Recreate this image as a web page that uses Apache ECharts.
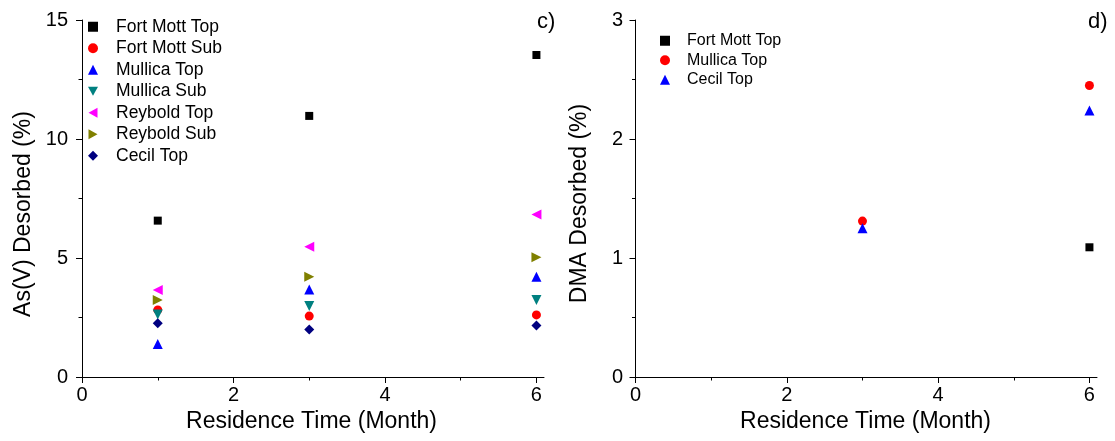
<!DOCTYPE html>
<html>
<head>
<meta charset="utf-8">
<title>As(V) and DMA desorption vs residence time</title>
<script src="https://cdn.jsdelivr.net/npm/echarts@6/dist/echarts.min.js"></script>
<style>
  html, body { margin: 0; padding: 0; background: #fff; }
  #wrap { position: relative; width: 1115px; height: 441px; }
  #panelC { position: absolute; left: 0; top: 0; width: 560px; height: 441px; }
  #panelD { position: absolute; left: 560px; top: 0; width: 555px; height: 441px; }
</style>
</head>
<body>
<div id="wrap">
  <div id="panelC"></div>
  <div id="panelD"></div>
</div>
<script>
// Residence time (months) at which samples were taken
const months = [1, 3, 6];

// Panel c: As(V) desorbed (%)
const fortMottTopAs = [6.57, 10.97, 13.53];
const fortMottSubAs = [2.82, 2.56, 2.61];
const mullicaTopAs  = [1.39, 3.68, 4.21];
const mullicaSubAs  = [2.63, 2.98, 3.24];
const reyboldTopAs  = [3.66, 5.47, 6.83];
const reyboldSubAs  = [3.24, 4.21, 5.03];
const cecilTopAs    = [2.26, 2.00, 2.16];

// Panel d: DMA desorbed (%)
const dmaMonths      = [3, 6];
const fortMottTopDma = [null, 1.09];
const mullicaTopDma  = [1.31, 2.45];
const cecilTopDma    = [1.25, 2.24];

// Axis tick labels
const xMajorTicks = [0, 2, 4, 6];
const xMinorTicks = [1, 3, 5];

const FONT = "'Liberation Sans', Arial, sans-serif";

// Marker shapes
const TRI_UP    = 'triangle';
const TRI_DOWN  = 'path://M0,0L10,0L5,9Z';
const TRI_LEFT  = 'path://M0,5L9,0L9,10Z';
const TRI_RIGHT = 'path://M0,0L9,5L0,10Z';

function pairs(xs, ys) {
  const out = [];
  xs.forEach((x, i) => { if (ys[i] !== null) out.push([x, ys[i]]); });
  return out;
}

function xAxes(xMin) {
  return [
    {
      type: 'value', min: xMin, max: 6.1, position: 'bottom',
      name: 'Residence Time (Month)', nameLocation: 'middle', nameGap: 33,
      nameTextStyle: { fontFamily: FONT, fontSize: 23, color: '#000' },
      axisLine: { show: true, lineStyle: { color: '#000', width: 1 } },
      axisTick: { show: true, length: 6, customValues: xMajorTicks, lineStyle: { color: '#000' } },
      axisLabel: { customValues: xMajorTicks, fontFamily: FONT, fontSize: 20, color: '#000', margin: 8 },
      splitLine: { show: false }
    },
    {
      type: 'value', min: xMin, max: 6.1, position: 'bottom',
      axisLine: { show: false },
      axisTick: { show: true, length: 3.5, customValues: xMinorTicks, lineStyle: { color: '#000' } },
      axisLabel: { show: false },
      splitLine: { show: false }
    }
  ];
}

function yAxis(name, max, interval, padRight, gap) {
  return {
    type: 'value', min: 0, max: max, interval: interval,
    name: name, nameLocation: 'middle', nameGap: gap,
    nameTextStyle: { fontFamily: FONT, fontSize: 23, color: '#000', padding: [0, padRight, 0, 0] },
    axisLine: { show: true, lineStyle: { color: '#000', width: 1 } },
    axisTick: { show: true, length: 6, lineStyle: { color: '#000' } },
    minorTick: { show: true, splitNumber: 2, length: 3.5, lineStyle: { color: '#000' } },
    axisLabel: { fontFamily: FONT, fontSize: 20, color: '#000', margin: 11 },
    splitLine: { show: false }
  };
}

function scatter(name, data, symbol, size, color) {
  return {
    name: name, type: 'scatter', xAxisIndex: 0, yAxisIndex: 0,
    data: data, symbol: symbol, symbolSize: size,
    itemStyle: { color: color, opacity: 1 },
    emphasis: { disabled: true }
  };
}

// ---- Panel c ----
const chartC = echarts.init(document.getElementById('panelC'), null, { renderer: 'canvas' });
chartC.setOption({
  animation: false,
  backgroundColor: '#fff',
  grid: { left: 79, top: 20, width: 465, height: 357 },
  xAxis: xAxes(-0.04),
  yAxis: yAxis('As(V) Desorbed (%)', 15, 5, 31, 44),
  legend: {
    orient: 'vertical', left: 88, top: 16, padding: 0,
    itemWidth: 10, itemHeight: 10, itemGap: 0,
    textStyle: { fontFamily: FONT, fontSize: 17.5, color: '#000', lineHeight: 21.5, padding: [0, 0, 0, 13] },
    data: ['Fort Mott Top', 'Fort Mott Sub', 'Mullica Top', 'Mullica Sub', 'Reybold Top', 'Reybold Sub', 'Cecil Top']
  },
  graphic: [{
    type: 'text', left: 537, top: 11,
    style: { text: 'c)', fontFamily: FONT, fontSize: 22, fill: '#000' }
  }],
  series: [
    scatter('Fort Mott Top', pairs(months, fortMottTopAs), 'rect', 8, '#000000'),
    scatter('Fort Mott Sub', pairs(months, fortMottSubAs), 'circle', 9, '#ff0000'),
    scatter('Mullica Top', pairs(months, mullicaTopAs), TRI_UP, 10, '#0000ff'),
    scatter('Mullica Sub', pairs(months, mullicaSubAs), TRI_DOWN, 10, '#008080'),
    scatter('Reybold Top', pairs(months, reyboldTopAs), TRI_LEFT, 10, '#ff00ff'),
    scatter('Reybold Sub', pairs(months, reyboldSubAs), TRI_RIGHT, 10, '#808000'),
    scatter('Cecil Top', pairs(months, cecilTopAs), 'diamond', 10, '#000080')
  ]
});

// ---- Panel d ----
const chartD = echarts.init(document.getElementById('panelD'), null, { renderer: 'canvas' });
chartD.setOption({
  animation: false,
  backgroundColor: '#fff',
  grid: { left: 68, top: 20, width: 469, height: 357 },
  xAxis: xAxes(-0.02),
  yAxis: yAxis('DMA Desorbed (%)', 3, 1, 10, 43),
  legend: {
    orient: 'vertical', left: 100, top: 31, padding: 0,
    itemWidth: 10, itemHeight: 10, itemGap: 0,
    textStyle: { fontFamily: FONT, fontSize: 16, color: '#000', lineHeight: 19.5, padding: [0, 0, 0, 12] },
    data: ['Fort Mott Top', 'Mullica Top', 'Cecil Top']
  },
  graphic: [{
    type: 'text', left: 528, top: 11,
    style: { text: 'd)', fontFamily: FONT, fontSize: 22, fill: '#000' }
  }],
  series: [
    scatter('Fort Mott Top', pairs(dmaMonths, fortMottTopDma), 'rect', 8, '#000000'),
    scatter('Mullica Top', pairs(dmaMonths, mullicaTopDma), 'circle', 9, '#ff0000'),
    scatter('Cecil Top', pairs(dmaMonths, cecilTopDma), TRI_UP, 10, '#0000ff')
  ]
});
</script>
</body>
</html>
